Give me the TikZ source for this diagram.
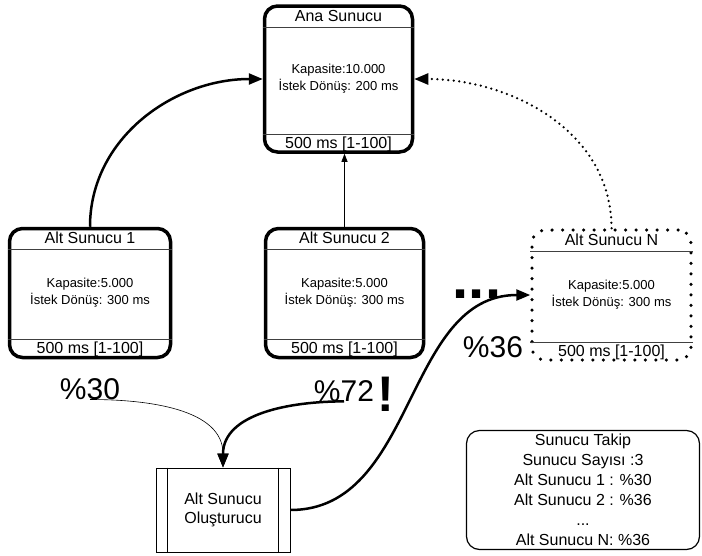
\documentclass[tikz,border=0pt]{standalone}
\usepackage{fontspec}
\setmainfont{Liberation Sans}
\usetikzlibrary{arrows.meta}

\begin{document}
\begin{tikzpicture}[x=1pt,y=1pt,
    every node/.style={inner sep=0pt},
    sunucu/.style={draw, line width=3.5pt, rounded corners=13pt, align=center,
        font=\fontsize{13}{17}\selectfont},
    ayrac/.style={line width=0.7pt, black!75},
    baslik/.style={font=\fontsize{16}{19}\selectfont},
    yuzde/.style={font=\fontsize{30}{30}\selectfont, anchor=base},
    kalin/.style={line width=2.5pt},
    ok/.style={-{Triangle[length=14pt,width=11pt]}},
]

\useasboundingbox (0,0) rectangle (702,-555);

% draw servers
\node[sunucu, minimum width=148pt, minimum height=146pt] (ana) at (338.5,-79)
    {Kapasite:10.000\\İstek Dönüş: 200 ms};
\node[sunucu, minimum width=161pt, minimum height=129pt] (alt1) at (90,-293)
    {Kapasite:5.000\\İstek Dönüş: 300 ms};
\node[sunucu, minimum width=158pt, minimum height=129pt] (alt2) at (344.5,-293)
    {Kapasite:5.000\\İstek Dönüş: 300 ms};
\node[sunucu, minimum width=159pt, minimum height=130pt, line width=3.5pt,
    dash pattern=on 0pt off 10.5pt, line cap=round] (altN) at (611.5,-295)
    {Kapasite:5.000\\İstek Dönüş: 300 ms};

% titles, times and separator lines
\foreach \n/\b in {ana/Ana Sunucu, alt1/Alt Sunucu 1, alt2/Alt Sunucu 2, altN/Alt Sunucu N}{
    \node[baslik] (\n-baslik) at ([yshift=-11.5pt]\n.north) {\b};
    \node[baslik] (\n-sure) at ([yshift=9.5pt]\n.south) {500 ms [1-100]};
    \draw[ayrac] ([yshift=-23pt]\n.north west) -- ([yshift=-23pt]\n.north east);
    \draw[ayrac] ([yshift=19.5pt]\n.south west) -- ([yshift=19.5pt]\n.south east);
}

% server creator
\node[draw, line width=1pt, minimum width=134pt, minimum height=84pt, align=center,
    font=\fontsize{16}{19}\selectfont] (olus) at (223,-510) {Alt Sunucu\\Oluşturucu};
\draw[line width=1pt] ([xshift=12pt]olus.north west) -- ([xshift=12pt]olus.south west);
\draw[line width=1pt] ([xshift=-12pt]olus.north east) -- ([xshift=-12pt]olus.south east);

% tracking box
\node[draw, line width=1.2pt, rounded corners=13pt, minimum width=233pt, minimum height=119pt,
    align=center, font=\fontsize{16}{20}\selectfont] (takip) at (583,-490)
    {Sunucu Takip\\Sunucu Sayısı :3\\Alt Sunucu 1 : \%30\\Alt Sunucu 2 : \%36\\...\\Alt Sunucu N: \%36};

% load labels
\node[yuzde] (y30) at (90,-399) {\%30};
\node[yuzde] (y72) at (344,-401) {\%72};
\node[yuzde] (y36) at (493,-357) {\%36};
\node[font=\fontsize{50}{50}\selectfont\bfseries, anchor=base] (unlem) at (386,-411) {!};
\node[font=\fontsize{58}{58}\selectfont\bfseries, anchor=base] (nokta) at (477,-298) {...};

% connectors
\draw[kalin, ok] (alt1.north) to[out=90,in=180] (ana.west);
\draw[line width=0.7pt, -{Triangle[length=8pt,width=6pt]}] (alt2.north) -- (alt2.north |- ana.south);
\draw[kalin, ok, dash pattern=on 0pt off 5.5pt, line cap=round] (altN.north) to[out=90,in=0] (ana.east);
\draw[line width=0.6pt, ok] (y30.south) to[out=0,in=90] (olus.north);
\draw[kalin, ok] (y72.south) to[out=180,in=90] (olus.north);
\draw[kalin, ok] (olus.east) to[out=0,in=180] (altN.west);

\end{tikzpicture}
\end{document}
